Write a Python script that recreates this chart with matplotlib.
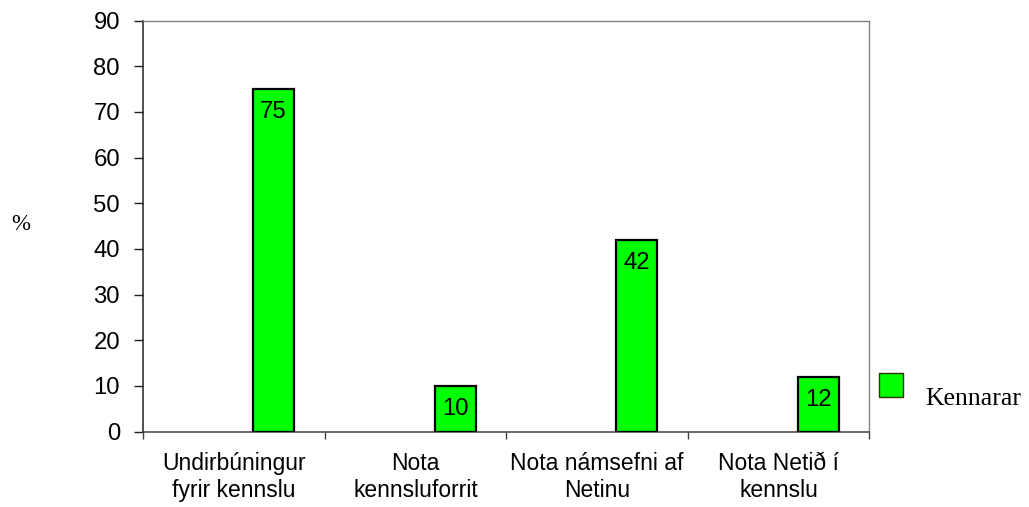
import matplotlib
matplotlib.use("Agg")
import matplotlib.pyplot as plt
from matplotlib.patches import Rectangle

categories = ["Undirbúningur\nfyrir kennslu", "Nota\nkennsluforrit",
              "Nota námsefni af\nNetinu", "Nota Netið í\nkennslu"]
values = [75, 10, 42, 12]
series_name = "Kennarar"
yticks = [0, 10, 20, 30, 40, 50, 60, 70, 80, 90]

W, H, DPI = 1029, 507, 100
fig = plt.figure(figsize=(W / DPI, H / DPI), dpi=DPI)
ax = fig.add_axes([143.3 / W, 1 - 431.5 / H, (869.3 - 143.3) / W, (431.5 - 20.7) / H])

sans = ["Liberation Sans", "Arial", "DejaVu Sans"]
serif = ["Liberation Serif", "Times New Roman", "DejaVu Serif"]
fs = 16.5
fs_num = 17.2

x = list(range(len(categories)))
offset, width = 0.218, 0.226
bars = ax.bar([i + offset for i in x], values, width=width, color="#00FF00",
              edgecolor="black", linewidth=1.6, zorder=3)
for b, v in zip(bars, values):
    ax.annotate(str(v), (b.get_x() + b.get_width() / 2, v), xytext=(0, -16.5),
                textcoords="offset points", ha="center", va="center",
                fontsize=fs_num, family=sans, color="black", zorder=4)

ax.set_xlim(-0.5, len(categories) - 0.5)
ax.set_ylim(0, 90)
ax.set_yticks(yticks)
ax.set_yticklabels([str(t) for t in yticks], fontsize=fs_num, family=sans)
ax.tick_params(axis="y", direction="out", length=6.3, width=1, pad=10.5, color="#202020")

ax.set_xticks([i - 0.5 for i in range(len(categories) + 1)], minor=False)
ax.set_xticklabels([])
ax.set_xticks(x, minor=True)
ax.set_xticklabels(categories, minor=True, fontsize=fs, family=sans, linespacing=1.2)
ax.tick_params(axis="x", which="major", direction="out", length=5, width=1, color="#404040")
ax.tick_params(axis="x", which="minor", length=0, pad=15)

ax.spines["left"].set_color("#202020")
ax.spines["left"].set_linewidth(1.1)
ax.spines["bottom"].set_color("#404040")
ax.spines["bottom"].set_linewidth(1.1)
for s in ["top", "right"]:
    ax.spines[s].set_color("#808080")
    ax.spines[s].set_linewidth(1.0)

# legend
fig.add_artist(Rectangle((879.3 / W, 1 - 396.7 / H), 24 / W, 24 / H,
                         transform=fig.transFigure, facecolor="#00FF00",
                         edgecolor="#333300", linewidth=1.0))
fig.text(925 / W, 1 - 399 / H, series_name, fontsize=18.5, family=serif,
         ha="left", va="center")

fig.text(21 / W, 1 - 225 / H, "%", fontsize=16.5, family=serif, ha="center", va="center")

fig.savefig("out.png", dpi=DPI)
